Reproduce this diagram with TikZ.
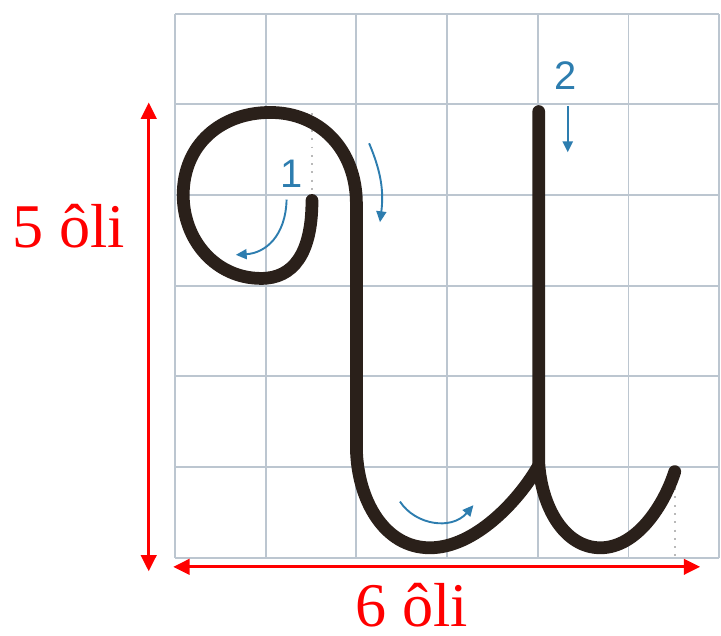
\documentclass[tikz,border=0pt]{standalone}
\usepackage{fontspec}
\setmainfont{Liberation Serif}
\setsansfont{Liberation Sans}
\usepackage{tikz}
\usetikzlibrary{arrows.meta,positioning,calc}
\definecolor{inkbrown}{RGB}{42,32,26}
\definecolor{hintblue}{RGB}{45,125,175}
\definecolor{gridgray}{RGB}{188,198,208}
\tikzset{
  gridln/.style={line width=0.6pt, gridgray},
  letterln/.style={line width=4pt, inkbrown, line cap=round, line join=round},
  hintln/.style={-{Triangle[length=1.2mm,width=1.1mm]}, line width=0.6pt, hintblue},
  dimln/.style={{Triangle[length=1.8mm,width=1.7mm]}-{Triangle[length=1.8mm,width=1.7mm]}, line width=0.9pt, red},
  dimlbl/.style={red, inner sep=0pt, anchor=base, font=\fontsize{19.5}{23}\selectfont},
  numlbl/.style={hintblue, inner sep=0pt, font=\sffamily\fontsize{12.5}{15}\selectfont},
  dotln/.style={dotted, line width=0.6pt, gray!55},
}

\begin{document}
\begin{tikzpicture}
    \useasboundingbox (-1.93,-0.86) rectangle (6.02,6.15);
    % grid of o li
    \draw[gridln] (0,0) grid (6,6);
    \draw[dotln] (1.51,4.9) -- (1.51,3.95);
    \draw[dotln] (5.51,0.95) -- (5.51,0);
    % stroke 1
    \draw[letterln] (1.51,3.94)
      .. controls (1.51,3.35) and (1.3,3.08) .. (0.95,3.08)
      .. controls (0.45,3.08) and (0.09,3.5) .. (0.09,4.0)
      .. controls (0.09,4.55) and (0.5,4.91) .. (1.05,4.91)
      .. controls (1.6,4.91) and (2.0,4.5) .. (2.0,3.9)
      -- (2.0,1.2)
      .. controls (2.01,0.65) and (2.3,0.11) .. (2.81,0.11)
      .. controls (3.3,0.11) and (3.78,0.62) .. (4.0,1.0);
    % stroke 2
    \draw[letterln] (4.01,4.92) -- (4.01,1.05)
      .. controls (4.04,0.55) and (4.3,0.11) .. (4.69,0.11)
      .. controls (5.1,0.11) and (5.4,0.6) .. (5.51,0.95);
    % stroke numbers and hints
    \node[numlbl] (n1) at (1.29,4.23) {1};
    \node[numlbl] (n2) at (4.31,5.32) {2};
    \coordinate (h1a) at (1.23,3.95);
    \coordinate (h1b) at (0.67,3.34);
    \coordinate (h2a) at (4.33,4.98);
    \coordinate (h2b) at (4.33,4.47);
    \coordinate (hRa) at (2.14,4.57);
    \coordinate (hRb) at (2.26,3.70);
    \coordinate (hBa) at (2.48,0.62);
    \coordinate (hBb) at (3.29,0.58);
    \draw[hintln] (h1a) .. controls (1.22,3.55) and (1.0,3.36) .. (h1b);
    \draw[hintln] (h2a) -- (h2b);
    \draw[hintln] (hRa) to[bend left=15] (hRb);
    \draw[hintln] (hBa) .. controls (2.65,0.36) and (3.05,0.3) .. (hBb);
    % size marks
    \coordinate (vTop) at (-0.29,5.02);
    \coordinate (vBot) at (-0.29,-0.15);
    \coordinate (hLft) at (-0.02,-0.10);
    \coordinate (hRgt) at (5.79,-0.10);
    \draw[dimln] (vTop) -- (vBot);
    \draw[dimln] (hLft) -- (hRgt);
    \node[dimlbl] (lblH) at (-1.17,3.42) {5 ôli};
    \node[dimlbl] (lblW) at (2.61,-0.76) {6 ôli};
  \end{tikzpicture}
\end{document}
